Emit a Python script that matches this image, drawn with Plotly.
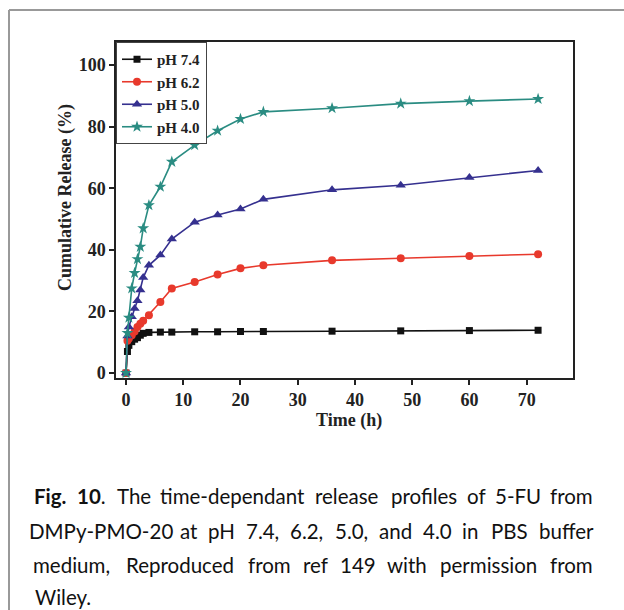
import plotly.graph_objects as go

time_h = [0, 0.25, 0.5, 1, 1.5, 2, 2.5, 3, 4, 6, 8, 12, 16, 20, 24, 36, 48, 60, 72]
ph74 = [0, 7.0, 9.0, 10.2, 11.0, 11.5, 12.3, 12.9, 13.2, 13.3, 13.3, 13.4, 13.4, 13.5, 13.5, 13.6, 13.7, 13.8, 13.9]
ph62 = [0, 10.5, 11.2, 12.3, 13.5, 15.0, 16.0, 17.0, 18.8, 23.1, 27.5, 29.6, 32.0, 34.0, 35.0, 36.6, 37.3, 38.0, 38.6]
ph50 = [0, 12.0, 15.0, 18.3, 21.0, 23.5, 27.0, 31.0, 35.0, 38.3, 43.5, 49.0, 51.3, 53.3, 56.4, 59.5, 61.0, 63.5, 65.8]
ph40 = [0, 13.0, 18.0, 27.5, 32.5, 37.0, 41.0, 47.0, 54.5, 60.5, 68.6, 74.0, 78.7, 82.5, 84.8, 86.0, 87.5, 88.3, 89.0]

series_names = ["pH 7.4", "pH 6.2", "pH 5.0", "pH 4.0"]
series_vals = [ph74, ph62, ph50, ph40]
colors = ["#111111", "#e8392c", "#35308f", "#2a8c82"]
symbols = ["square", "circle", "triangle-up", "star"]
msizes = [7, 8, 9, 9]

x_ticks = [0, 10, 20, 30, 40, 50, 60, 70]
y_ticks = [0, 20, 40, 60, 80, 100]

caption_lines = [
    ["<b>Fig.</b>", "<b>10</b>.", "The", "time-dependant", "release", "profiles", "of", "5-FU", "from"],
    ["DMPy-PMO-20", "at", "pH", "7.4,", "6.2,", "5.0,", "and", "4.0", "in", "PBS", "buffer"],
    ["medium,", "Reproduced", "from", "ref", "149", "with", "permission", "from"],
    ["Wiley."],
]

fig = go.Figure()
for name, vals, c, s, ms in zip(series_names, series_vals, colors, symbols, msizes):
    fig.add_trace(go.Scatter(
        x=time_h, y=vals, name=f"<b>{name}</b>", mode="lines+markers",
        line=dict(color=c, width=1.6),
        marker=dict(symbol=s, size=ms, color=c, line=dict(width=0)),
    ))

W, H = 624, 610
L, R, T, B = 116, 573, 42, 378
pw, ph = R - L, B - T

def px(x):
    return (x - L) / pw

def py(y):
    return (B - y) / ph

serif = "Liberation Serif"
axis_common = dict(
    showline=True, linecolor="#222", linewidth=1.5, mirror=True,
    ticks="outside", ticklen=5, tickwidth=1.5, tickcolor="#222",
    showgrid=False, zeroline=False,
    tickfont=dict(family=serif, size=18, color="#222"),
)

fig.update_layout(
    width=W, height=H,
    margin=dict(l=L, r=W - R, t=T, b=H - B),
    paper_bgcolor="white", plot_bgcolor="white",
    xaxis=dict(range=[-1.75, 78.1], tickvals=x_ticks,
               ticktext=[f"<b>{v}</b>" for v in x_ticks], **axis_common),
    yaxis=dict(range=[-1.6, 107.5], tickvals=y_ticks,
               ticktext=[f"<b>{v}</b>" for v in y_ticks], **axis_common),
    legend=dict(x=0, y=1, xanchor="left", yanchor="top",
                bordercolor="#444", borderwidth=1, bgcolor="white",
                font=dict(family=serif, size=15, color="#222"),
                tracegroupgap=0, itemwidth=30),
    showlegend=True,
)

annotations = [
    dict(text="<b>Time (h)</b>", x=px(349), y=py(420), xref="paper", yref="paper",
         showarrow=False, font=dict(family=serif, size=18, color="#222"),
         xanchor="center", yanchor="middle"),
    dict(text="<b>Cumulative Release (%)</b>", x=px(65), y=py(198), xref="paper", yref="paper",
         showarrow=False, textangle=-90, font=dict(family=serif, size=18, color="#222"),
         xanchor="center", yanchor="middle"),
]

# approximate glyph advance widths (per 1000 em) for justified caption layout
AW = {' ': 278, '.': 278, ',': 278, '-': 333, '(': 333, ')': 333}
for ch in "0123456789":
    AW[ch] = 556
AW.update(dict(a=556, b=556, c=500, d=556, e=556, f=278, g=556, h=556, i=222, j=222, k=500,
               l=222, m=833, n=556, o=556, p=556, q=556, r=333, s=500, t=278, u=556, v=500,
               w=722, x=500, y=500, z=500))
AW.update(dict(A=667, B=667, C=722, D=722, E=667, F=611, G=778, H=722, I=278, J=500, K=667,
               L=556, M=833, N=722, O=778, P=667, Q=778, R=722, S=667, T=611, U=722, V=667,
               W=944, X=667, Y=667, Z=611))

cap_font = "Lato"
cap_size = 20.5
cap_left, cap_right = 33, 592
line_y = [496, 531, 565, 597]

def word_w(wd):
    plain = wd.replace("<b>", "").replace("</b>", "")
    return sum(AW.get(ch, 556) for ch in plain) / 1000 * cap_size * 0.985

for words, yy in zip(caption_lines, line_y):
    widths = [word_w(w) for w in words]
    if len(words) > 1 and words is not caption_lines[-1]:
        gap = (cap_right - cap_left - sum(widths)) / (len(words) - 1)
    else:
        gap = AW[' '] / 1000 * cap_size
    xcur = cap_left
    for wd, ww in zip(words, widths):
        if len(words) == 1:
            xa, xx = "left", xcur
        else:
            xa, xx = "center", xcur + ww / 2
        annotations.append(dict(text=wd, x=px(xx), y=py(yy), xref="paper", yref="paper",
                                showarrow=False, xanchor=xa, yanchor="middle",
                                font=dict(family=cap_font, size=cap_size, color="#111")))
        xcur += ww + gap
fig.update_layout(annotations=annotations)

fig.add_shape(type="line", xref="paper", yref="paper",
              x0=px(9), x1=px(W + 5), y0=py(10), y1=py(10),
              line=dict(color="#999", width=2))
fig.add_shape(type="line", xref="paper", yref="paper",
              x0=px(9), x1=px(9), y0=py(10), y1=py(H + 5),
              line=dict(color="#999", width=2))

fig.write_html("out.html")
